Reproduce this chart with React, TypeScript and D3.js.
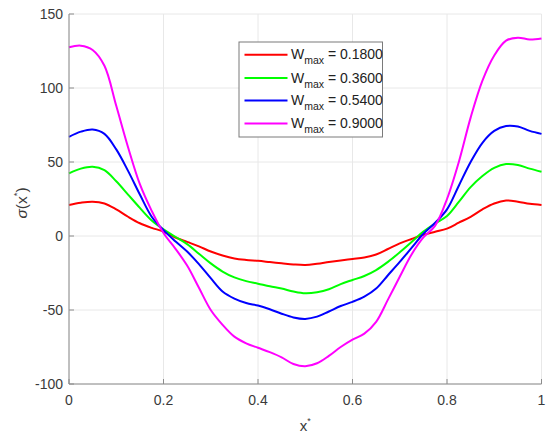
import React from "react";
import * as d3 from "d3";

// x* positions shared by all series
const xs = d3.range(0, 41).map((i) => i / 40);

const wmaxLabels = ["0.1800", "0.3600", "0.5400", "0.9000"];
const colors = ["#ff0000", "#00ff00", "#0000ff", "#ff00ff"];

const sigma018 = [
  21, 22.5, 23.2, 22, 18, 13, 8.6, 5.5, 3, -1, -4, -7, -10.5, -13.2, -15.2, -16.2,
  -16.8, -17.6, -18.4, -19.2, -19.6, -18.8, -17.6, -16.5, -15.5, -14.5, -12.5, -8.8, -5,
  -2, 0.8, 2.9, 5, 9, 13, 18, 22, 24, 23.2, 21.8, 21,
];
const sigma036 = [
  42.3, 45.5, 46.8, 44.5, 37, 28, 19, 10.5, 4.5, -0.5, -5.5, -12, -18.5, -24, -28, -30.5,
  -32.2, -34, -35.5, -37.5, -38.7, -38, -36, -32.5, -29.7, -27, -23, -17.5, -11, -4, 3, 8.5,
  13.5, 23, 33, 40.5, 46, 48.6, 48, 45.5, 43.4,
];
const sigma054 = [
  67, 70.5, 72, 69, 58.5, 44, 28, 13, 4, -3.5, -10.5, -19, -28.5, -37.5, -42.3, -45.3, -47,
  -49.5, -52.5, -55, -56, -54.5, -51, -47.3, -44.5, -41, -35.5, -26.5, -17.5, -8, 1.5, 9, 18,
  34, 50, 63, 71, 74.3, 74, 71, 69,
];
const sigma090 = [
  127.5, 128.6, 125.7, 115, 88, 60, 35, 17, 2, -8.5, -20, -35, -50, -60, -68, -72.5, -75.5,
  -78.5, -82, -86.5, -88, -86, -81, -75, -70, -66, -58, -43, -27.5, -12.5, -1, 7, 25, 50, 80,
  105, 122, 132, 134, 132.8, 133.5,
];

const series = [sigma018, sigma036, sigma054, sigma090];

const xTicks = [0, 0.2, 0.4, 0.6, 0.8, 1];
const yTicks = [-100, -50, 0, 50, 100, 150];

const W = 550;
const H = 439;
const margin = { top: 14, right: 8.5, bottom: 55, left: 69 };

const font = "Liberation Sans, Arial, Helvetica, sans-serif";

export default function App() {
  const x = d3.scaleLinear().domain([0, 1]).range([margin.left, W - margin.right]);
  const y = d3.scaleLinear().domain([-100, 150]).range([H - margin.bottom, margin.top]);

  const line = d3
    .line<number>()
    .x((_, i) => x(xs[i]))
    .y((d) => y(d))
    .curve(d3.curveCatmullRom.alpha(0.5));

  const x0 = x(0);
  const x1 = x(1);
  const yB = y(-100);
  const yT = y(150);
  const axisColor = "#8c8c8c";
  const textColor = "#3a3a3a";

  const lx = 239;
  const ly = 42;
  const lw = 143.5;
  const lh = 95;
  const rowY = [54.7, 78, 100.5, 123.5];

  return (
    <svg
      width={W}
      height={H}
      style={{ position: "absolute", left: 0, top: 0, background: "#fff" }}
      fontFamily={font}
    >
      <rect width={W} height={H} fill="#fff" />
      {/* grid */}
      {xTicks.map((t) => (
        <line key={"gx" + t} x1={x(t)} x2={x(t)} y1={yT} y2={yB} stroke="#e8e8e8" strokeWidth={1} />
      ))}
      {yTicks.map((t) => (
        <line key={"gy" + t} x1={x0} x2={x1} y1={y(t)} y2={y(t)} stroke="#e8e8e8" strokeWidth={1} />
      ))}

      {/* series */}
      {series.map((s, i) => (
        <path key={i} d={line(s) || ""} fill="none" stroke={colors[i]} strokeWidth={2} />
      ))}

      {/* axes */}
      <line x1={x0} x2={x0} y1={yT} y2={yB} stroke={axisColor} strokeWidth={1} />
      <line x1={x0} x2={x1} y1={yB} y2={yB} stroke={axisColor} strokeWidth={1} />
      {xTicks.map((t) => (
        <g key={"xt" + t}>
          <line x1={x(t)} x2={x(t)} y1={yB} y2={yB - 5} stroke={axisColor} />
          <text x={x(t)} y={yB + 21} textAnchor="middle" fontSize={14} fill={textColor}>
            {t}
          </text>
        </g>
      ))}
      {yTicks.map((t) => (
        <g key={"yt" + t}>
          <line x1={x0} x2={x0 + 5} y1={y(t)} y2={y(t)} stroke={axisColor} />
          <text x={x0 - 6} y={y(t) + 5} textAnchor="end" fontSize={14} fill={textColor}>
            {t}
          </text>
        </g>
      ))}

      {/* axis labels */}
      <text x={(x0 + x1) / 2} y={431} textAnchor="middle" fontSize={15} fill={textColor}>
        x<tspan dy={-7} fontSize={9}>*</tspan>
      </text>
      <text
        transform={`translate(27,${(yT + yB) / 2 + 4}) rotate(-90)`}
        textAnchor="middle"
        fontSize={15.5}
        fill={textColor}
      >
        <tspan fontStyle="italic">σ</tspan>(x<tspan dy={-7} fontSize={9.5}>*</tspan>
        <tspan dy={7}>)</tspan>
      </text>

      {/* legend */}
      <rect x={lx} y={ly} width={lw} height={lh} fill="#fff" stroke="#7a7a7a" strokeWidth={1} />
      {wmaxLabels.map((lab, i) => (
        <g key={lab}>
          <line x1={244.5} x2={287.5} y1={rowY[i]} y2={rowY[i]} stroke={colors[i]} strokeWidth={2} />
          <text x={291} y={rowY[i] + 4.5} fontSize={14} fill="#222">
            W<tspan dy={5} fontSize={10.5}>max</tspan>
            <tspan dy={-5}> = {lab}</tspan>
          </text>
        </g>
      ))}
    </svg>
  );
}
